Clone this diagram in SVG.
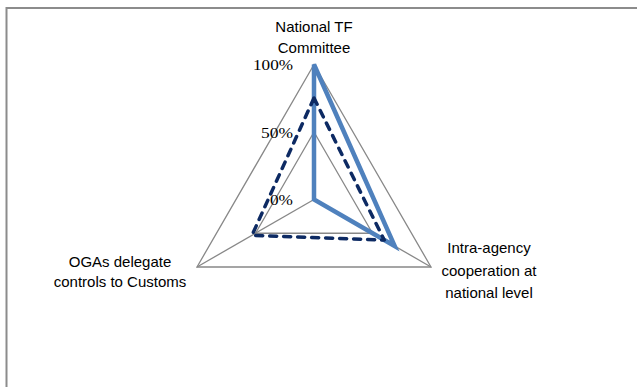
<svg xmlns="http://www.w3.org/2000/svg" width="637" height="387" viewBox="0 0 637 387">
<style>
.frame{fill:none;stroke:#8c8c8c;stroke-width:2}
.grid{fill:none;stroke:#888888;stroke-width:1.3}
.cat{font-family:"Liberation Sans",Arial,sans-serif;font-size:15px;fill:#000;text-anchor:middle}
.tick{font-family:"Liberation Serif","Times New Roman",serif;font-size:14.5px;fill:#000;text-anchor:end}
.s1{fill:none;stroke:#4F81BD;stroke-width:4.5;stroke-linejoin:miter}
.s2{fill:none;stroke:#0D2A63;stroke-width:3.5;stroke-dasharray:7 7;stroke-linecap:round;stroke-linejoin:round}
</style>
<rect width="637" height="387" fill="#ffffff"/>
<path class="frame" d="M6.5,387 V8 H637"/>
<g id="grid">
<polygon class="grid" points="314,64.5 431,267 197,267"/>
<polygon class="grid" points="314,132 372.5,233.25 255.5,233.25"/>
<line class="grid" x1="314" y1="199.5" x2="314" y2="64.5"/>
<line class="grid" x1="314" y1="199.5" x2="431" y2="267"/>
<line class="grid" x1="314" y1="199.5" x2="197" y2="267"/>
</g>
<g id="ticks">
<text class="tick" x="293" y="70" textLength="40" lengthAdjust="spacingAndGlyphs">100%</text>
<text class="tick" x="293" y="138" textLength="32" lengthAdjust="spacingAndGlyphs">50%</text>
<text class="tick" x="293" y="205" textLength="23" lengthAdjust="spacingAndGlyphs">0%</text>
</g>
<g id="series">
<polygon id="series1" class="s1" points="314,64.5 394.7,246 314,199.5"/>
<polygon id="series2" class="s2" points="314,98 384.2,240 252,235.3"/>
</g>
<g id="label-national">
<text class="cat" x="314" y="32">National TF</text>
<text class="cat" x="314" y="53">Committee</text>
</g>
<g id="label-intra">
<text class="cat" x="489" y="253">Intra-agency</text>
<text class="cat" x="489" y="276">cooperation at</text>
<text class="cat" x="489" y="298">national level</text>
</g>
<g id="label-ogas">
<text class="cat" x="120" y="267">OGAs delegate</text>
<text class="cat" x="120" y="287">controls to Customs</text>
</g>
</svg>
